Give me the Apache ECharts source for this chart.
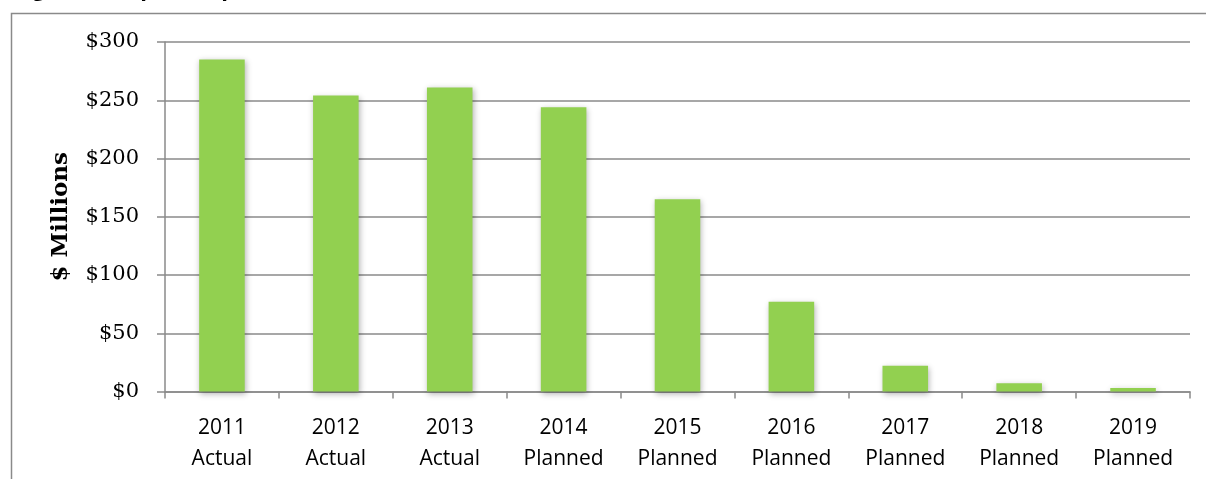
<!DOCTYPE html>
<html>
<head>
<meta charset="utf-8">
<script src="https://cdn.jsdelivr.net/npm/echarts@6/dist/echarts.min.js"></script>
<style>
  html, body { margin: 0; padding: 0; background: #ffffff; }
  #chart { width: 1206px; height: 479px; }
</style>
</head>
<body>
<div id="chart"></div>
<script>
// Annual capital spending, actual vs. planned ($ millions)
var years = ['2011', '2012', '2013', '2014', '2015', '2016', '2017', '2018', '2019'];
var phases = ['Actual', 'Actual', 'Actual', 'Planned', 'Planned', 'Planned', 'Planned', 'Planned', 'Planned'];
var spending = [285, 254, 261, 244, 165, 77, 22, 7, 3];
var yTicks = [0, 50, 100, 150, 200, 250, 300];

var categories = years.map(function (y, i) { return y + '\n' + phases[i]; });

var chart = echarts.init(document.getElementById('chart'), null, { renderer: 'canvas' });

var axisGray = '#8a8a8a';

chart.setOption({
  animation: false,
  backgroundColor: '#ffffff',
  graphic: [
    {
      // figure caption, running off the top edge
      type: 'text',
      left: 14,
      top: -21,
      style: {
        text: 'Figure 4: Capital Expenditures for the Modernization Initiative, 2011\u20132019 ($M)',
        font: 'bold 22px "Open Sans", sans-serif',
        fill: '#000000'
      },
      silent: true
    },
    {
      // outer frame around the chart
      type: 'rect',
      shape: { x: 11.5, y: 13.5, width: 1400, height: 700 },
      style: { fill: 'none', stroke: axisGray, lineWidth: 1.5 },
      silent: true,
      z: -1
    }
  ],
  grid: { left: 165, right: 16, top: 42, bottom: 87.5 },
  xAxis: {
    type: 'category',
    data: categories,
    axisLine: { show: true, lineStyle: { color: axisGray, width: 1.5 } },
    axisTick: { show: true, length: 7, lineStyle: { color: axisGray, width: 1.5 } },
    axisLabel: {
      color: '#000000',
      fontFamily: '"Open Sans", sans-serif',
      fontSize: 21,
      lineHeight: 31,
      margin: 21
    }
  },
  yAxis: {
    type: 'value',
    min: 0,
    max: 300,
    interval: 50,
    name: '$ Millions',
    nameLocation: 'middle',
    nameGap: 92,
    nameTextStyle: {
      color: '#000000',
      fontFamily: '"DejaVu Serif", serif',
      fontWeight: 'bold',
      fontSize: 23
    },
    axisLine: { show: true, lineStyle: { color: axisGray, width: 1.5 } },
    axisTick: { show: true, length: 8, lineStyle: { color: axisGray, width: 1.5 } },
    splitLine: { show: true, lineStyle: { color: axisGray, width: 1.5 } },
    axisLabel: {
      color: '#000000',
      fontFamily: '"DejaVu Serif", serif',
      fontSize: 21,
      margin: 26,
      customValues: yTicks,
      formatter: function (v) { return '$' + v; }
    }
  },
  series: [
    {
      type: 'bar',
      data: spending,
      barWidth: '40%',
      itemStyle: {
        color: '#92d050',
        shadowColor: 'rgba(0,0,0,0.3)',
        shadowBlur: 6,
        shadowOffsetX: 1,
        shadowOffsetY: 2
      }
    }
  ]
});
</script>
</body>
</html>
